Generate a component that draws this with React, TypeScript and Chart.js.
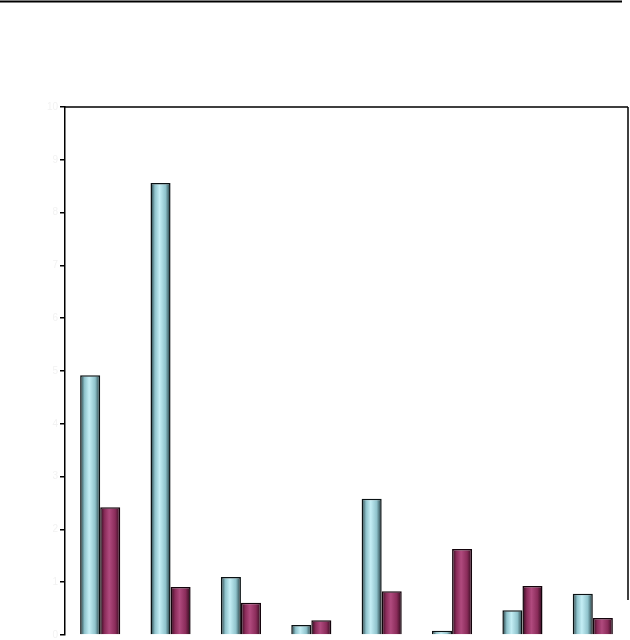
import React, { useEffect, useRef } from "react";
import { Chart, registerables } from "chart.js";

Chart.register(...registerables);

const categories = ["1", "2", "3", "4", "5", "6", "7", "8"];
const seriesA = [4.92, 8.56, 1.1, 0.19, 2.58, 0.08, 0.47, 0.78];
const seriesB = [2.42, 0.91, 0.61, 0.28, 0.83, 1.63, 0.93, 0.32];
const yTicks = [0, 1, 2, 3, 4, 5, 6, 7, 8, 9, 10];

const cylinder = (ctx: CanvasRenderingContext2D, x0: number, x1: number, dark: string, mid: string, light: string) => {
  const g = ctx.createLinearGradient(x0, 0, x1, 0);
  g.addColorStop(0, dark);
  g.addColorStop(0.22, mid);
  g.addColorStop(0.45, light);
  g.addColorStop(0.75, mid);
  g.addColorStop(1, dark);
  return g;
};

const gradientPlugin = {
  id: "cyl",
  beforeDatasetsDraw(chart: any) {
    const ctx = chart.ctx;
    chart.data.datasets.forEach((ds: any, i: number) => {
      const meta = chart.getDatasetMeta(i);
      meta.data.forEach((el: any) => {
        const x0 = el.x - el.width / 2;
        const x1 = el.x + el.width / 2;
        const g = i === 0
          ? cylinder(ctx, x0, x1, "#1a3338", "#8fc3cc", "#c4eef5")
          : cylinder(ctx, x0, x1, "#2a0818", "#8a2c5a", "#b04a7e");
        el.options = Object.assign({}, el.options, { backgroundColor: g });
      });
    });
  },
};

const framePlugin = {
  id: "frame",
  afterDraw(chart: any) {
    const { ctx, chartArea } = chart;
    ctx.save();
    ctx.strokeStyle = "#000";
    ctx.lineWidth = 2;
    ctx.beginPath();
    ctx.moveTo(0, 1.5);
    ctx.lineTo(622, 1.5);
    ctx.stroke();
    ctx.lineWidth = 1.5;
    ctx.beginPath();
    ctx.moveTo(chartArea.left, chartArea.top);
    ctx.lineTo(chartArea.right, chartArea.top);
    ctx.moveTo(chartArea.right, chartArea.top);
    ctx.lineTo(chartArea.right, 600);
    ctx.stroke();
    ctx.restore();
  },
};

export default function App() {
  const ref = useRef<HTMLCanvasElement>(null);
  useEffect(() => {
    document.body.style.margin = "0";
    const chart = new Chart(ref.current as HTMLCanvasElement, {
      type: "bar",
      data: {
        labels: categories,
        datasets: [
          { data: seriesA, backgroundColor: "#a8dbe4", borderColor: "#0a1214", borderWidth: 1.5, categoryPercentage: 0.57, barPercentage: 1 },
          { data: seriesB, backgroundColor: "#9a3868", borderColor: "#14040c", borderWidth: 1.5, categoryPercentage: 0.57, barPercentage: 1 },
        ],
      },
      options: {
        animation: false,
        responsive: false,
        layout: { padding: { top: 107, right: 2, left: 0, bottom: 0 } },
        plugins: { legend: { display: false }, tooltip: { enabled: false } },
        scales: {
          x: {
            ticks: { display: false },
            grid: { display: false },
            border: { display: false },
            afterFit: (s: any) => { s.height = 5; s.paddingLeft = 0; s.paddingRight = 0; },
          },
          y: {
            min: 0,
            max: 10,
            afterBuildTicks: (s: any) => { s.ticks = yTicks.map((v) => ({ value: v })); },
            ticks: { color: "#f2f2f2", font: { size: 10, family: "Liberation Sans" }, padding: 2 },
            grid: { drawOnChartArea: false, drawTicks: true, tickLength: 5, color: "#000", lineWidth: 1.5 },
            border: { display: true, color: "#000", width: 1.5 },
            afterFit: (s: any) => { s.width = 65; s.paddingTop = 0; s.paddingBottom = 0; },
          },
        },
      },
      plugins: [gradientPlugin, framePlugin],
    });
    return () => chart.destroy();
  }, []);
  return (
    <div style={{ width: 630, height: 640 }}>
      <canvas ref={ref} width={630} height={640} />
    </div>
  );
}
